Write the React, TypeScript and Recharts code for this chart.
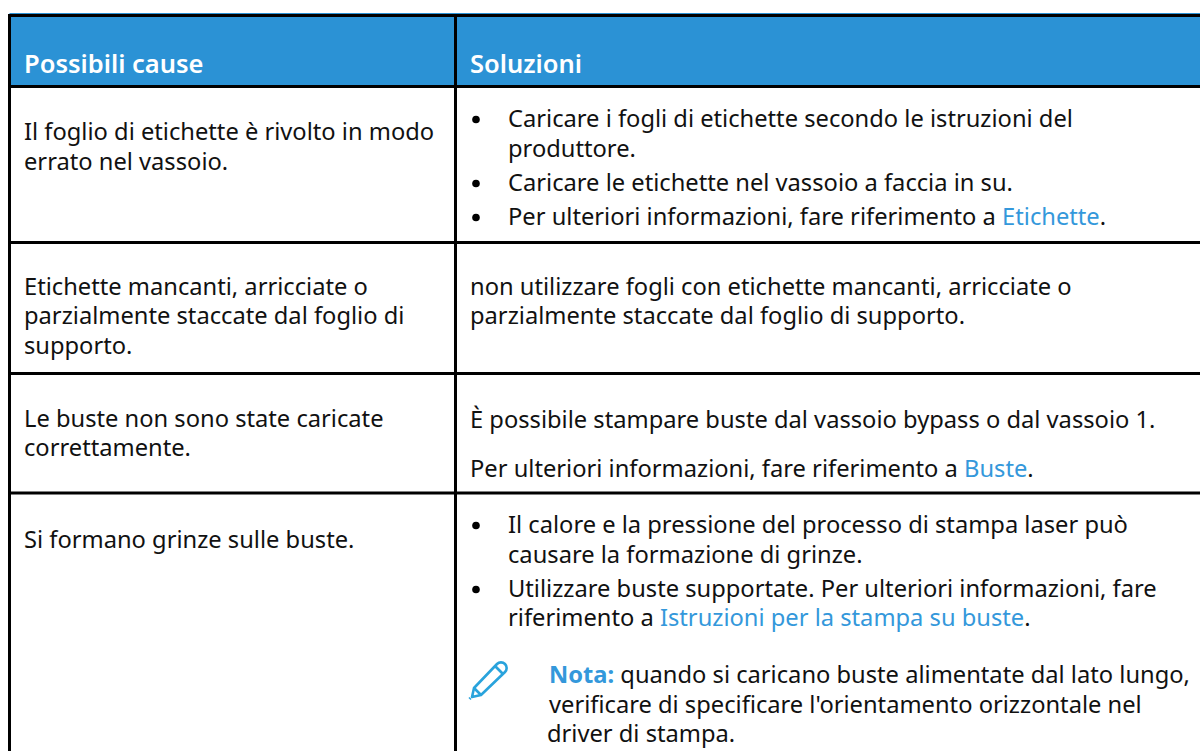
import { ScatterChart, Scatter, XAxis, YAxis, ReferenceArea, ReferenceLine } from 'recharts'

const headers = ['Possibili cause', 'Soluzioni']

const causeLines = [
    'Il foglio di etichette è rivolto in modo',
    'errato nel vassoio.',
    'Etichette mancanti, arricciate o',
    'parzialmente staccate dal foglio di',
    'supporto.',
    'Le buste non sono state caricate',
    'correttamente.',
    'Si formano grinze sulle buste.',
]

const solutionLines = [
    'non utilizzare fogli con etichette mancanti, arricciate o',
    'parzialmente staccate dal foglio di supporto.',
    'È possibile stampare buste dal vassoio bypass o dal vassoio 1.',
]

const linkedLines = [
    ['Per ulteriori informazioni, fare riferimento a ', 'Buste', '.'],
]

const bulletLines = [
    ['Caricare i fogli di etichette secondo le istruzioni del', '', ''],
    ['produttore.', '', ''],
    ['Caricare le etichette nel vassoio a faccia in su.', '', ''],
    ['Per ulteriori informazioni, fare riferimento a ', 'Etichette', '.'],
    ['Il calore e la pressione del processo di stampa laser può', '', ''],
    ['causare la formazione di grinze.', '', ''],
    ['Utilizzare buste supportate. Per ulteriori informazioni, fare', '', ''],
    ['riferimento a ', 'Istruzioni per la stampa su buste', '.'],
]

const noteLabel = 'Nota:'
const noteLines = [
    ' quando si caricano buste alimentate dal lato lungo,',
    "verificare di specificare l'orientamento orizzontale nel",
    'driver di stampa.',
]

// layout, in page pixels
const W = 1200
const H = 751
const BLUE = '#2b92d5'
const LINK = '#3498db'
const INK = '#111111'
const FONT = '"Noto Sans", sans-serif'
const SIZE = 23.7

const rowRules = [15.5, 86.5, 242.5, 373.5, 493]
const columnRules = [9.5, 455.5]
const causeY = [139.5, 170, 295, 324, 354, 427, 456, 548]
const solutionY = [295, 324, 428]
const linkedY = [477]
const bulletY = [127, 157, 191, 225, 533, 563, 597, 626]
const bulletDotY = [119.5, 183.5, 217.5, 525.5, 589.5]
const noteY = [683, 713, 742]
const noteX = [549, 549, 547]

const X_CAUSE = 24
const X_SOLUTION = 470
const X_DOT = 476
const X_BULLET = 508

const textPoints = [
    { x: X_CAUSE, y: 72.5, parts: [headers[0]], fill: '#ffffff', weight: 600, size: 25.5 },
    { x: X_SOLUTION, y: 72.5, parts: [headers[1]], fill: '#ffffff', weight: 600, size: 25.5 },
    ...causeLines.map((t, i) => ({ x: X_CAUSE, y: causeY[i], parts: [t] })),
    ...solutionLines.map((t, i) => ({ x: X_SOLUTION, y: solutionY[i], parts: [t] })),
    ...linkedLines.map((p, i) => ({ x: X_SOLUTION, y: linkedY[i], parts: p })),
    ...bulletLines.map((p, i) => ({ x: X_BULLET, y: bulletY[i], parts: p })),
    { x: noteX[0], y: noteY[0], parts: [noteLines[0]], lead: noteLabel },
    { x: noteX[1], y: noteY[1], parts: [noteLines[1]] },
    { x: noteX[2], y: noteY[2], parts: [noteLines[2]] },
]

const dotPoints = bulletDotY.map((y) => ({ x: X_DOT, y }))
const iconPoints = [{ x: 469, y: 660 }]

function TextLine(props: any) {
    const { cx, cy, payload } = props
    const { parts, fill = INK, weight = 400, size = SIZE, lead } = payload
    return (
        <text x={cx} y={cy} fontFamily={FONT} fontSize={size} fontWeight={weight} fill={fill} xmlSpace="preserve">
            {lead && <tspan fill={LINK} fontWeight={700}>{lead}</tspan>}
            {parts.map((part: string, i: number) => (
                <tspan key={i} fill={i === 1 ? LINK : fill}>{part}</tspan>
            ))}
        </text>
    )
}

function BulletDot(props: any) {
    return <circle cx={props.cx} cy={props.cy} r={3.8} fill="#000000" />
}

function PencilIcon(props: any) {
    const { cx, cy } = props
    return (
        <g transform={`translate(${cx},${cy})`} fill="none" stroke="#29a3dc" strokeWidth={2.6} strokeLinejoin="round">
            <path d="M5 28 L28 4 A5 5 0 0 1 36 12 L12 35 L3 37 Z" />
            <path d="M5 28 L12 35" />
            <path d="M26 6 L34 14" />
            <path d="M0.5 39 L1.5 38" strokeWidth={3} />
        </g>
    )
}

export default function App() {
    return (
        <div style={{ position: 'absolute', left: 0, top: 0, width: W, height: H, background: '#ffffff' }}>
            <ScatterChart width={W} height={H} margin={{ top: 0, right: 0, bottom: 0, left: 0 }}>
                <XAxis type="number" dataKey="x" domain={[0, W]} hide />
                <YAxis type="number" dataKey="y" domain={[0, H]} reversed hide />
                <ReferenceArea x1={columnRules[0]} x2={W} y1={13} y2={rowRules[1]} fill={BLUE} fillOpacity={1} stroke="none" />
                {rowRules.map((y) => (
                    <ReferenceLine key={y} stroke="#000000" strokeWidth={3} segment={[{ x: columnRules[0] - 1.5, y }, { x: W, y }]} />
                ))}
                {columnRules.map((x) => (
                    <ReferenceLine key={x} stroke="#000000" strokeWidth={3} segment={[{ x, y: rowRules[0] - 1.5 }, { x, y: H }]} />
                ))}
                <Scatter data={textPoints} shape={TextLine} isAnimationActive={false} />
                <Scatter data={dotPoints} shape={BulletDot} isAnimationActive={false} />
                <Scatter data={iconPoints} shape={PencilIcon} isAnimationActive={false} />
            </ScatterChart>
        </div>
    )
}
